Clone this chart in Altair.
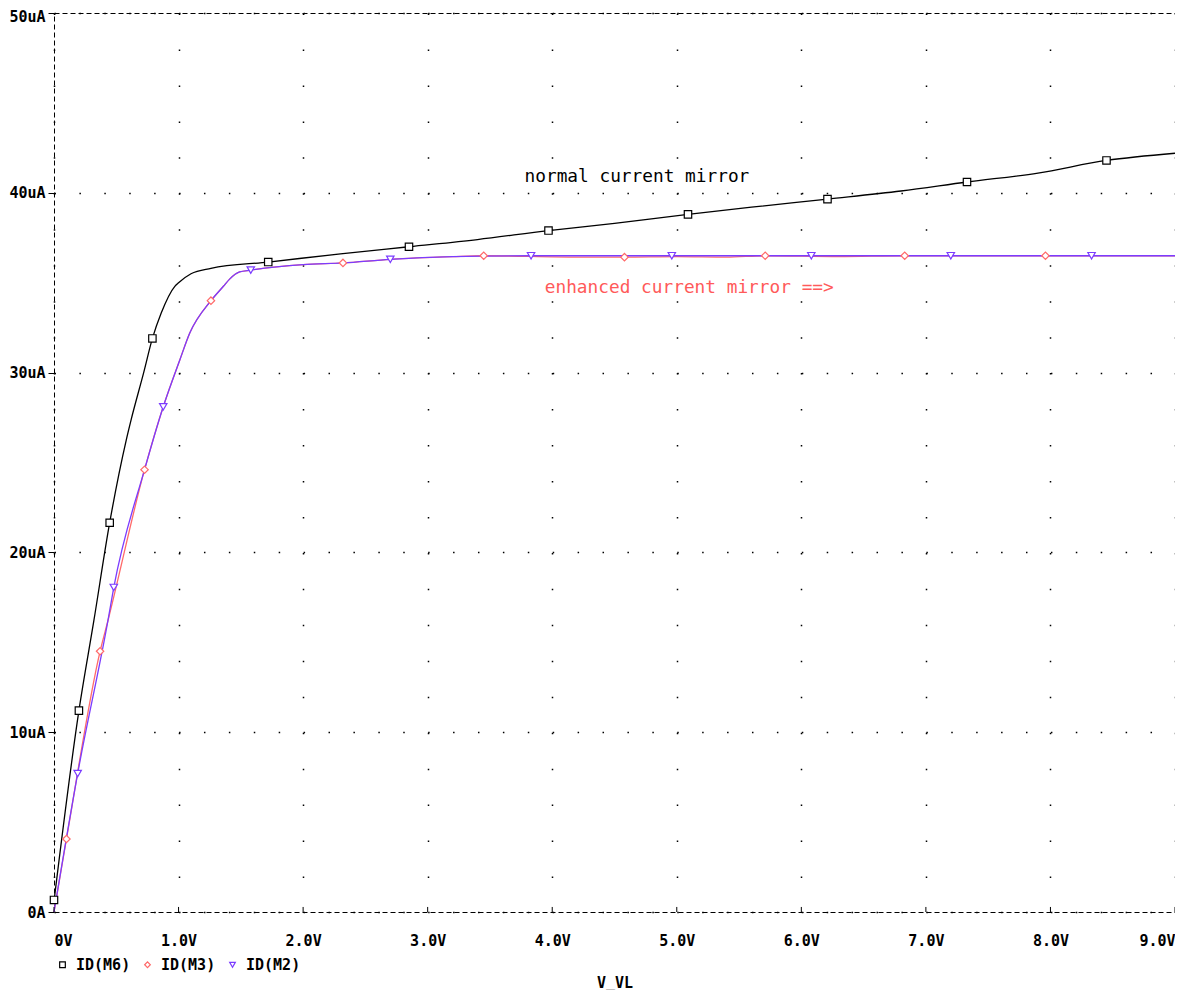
import json
import altair as alt
import pandas as pd

# ---- axis ticks / labels ----
x_ticks = [0, 1, 2, 3, 4, 5, 6, 7, 8, 9]
x_tick_labels = ["0V", "1.0V", "2.0V", "3.0V", "4.0V", "5.0V", "6.0V", "7.0V", "8.0V", "9.0V"]
y_ticks = [0, 10, 20, 30, 40, 50]
y_tick_labels = ["0A", "10uA", "20uA", "30uA", "40uA", "50uA"]

series_names = ["ID(M6)", "ID(M3)", "ID(M2)"]
series_colors = ["#000000", "#ff6a6a", "#7b3cff"]
series_shapes = ["square", "diamond", "triangle-down"]

# ---- curves (V, uA) ----
m6_v = [0.0, 0.2, 0.32, 0.447, 0.58, 0.62, 0.72, 0.79, 0.86, 0.97, 1.0, 1.1, 1.26, 1.72, 2.3, 2.85, 3.4, 3.97,
        4.5, 5.09, 5.6, 6.21, 6.8, 7.33, 7.9, 8.45, 9.0]
m6_i = [0.6, 11.2, 16.2, 21.65, 26.25, 27.4, 30.0, 31.9, 33.3, 34.8, 35.0, 35.5, 35.8, 36.15, 36.6, 37.0, 37.4, 37.9,
        38.3, 38.8, 39.2, 39.65, 40.1, 40.6, 41.1, 41.8, 42.2]

m3_v = [0.0, 0.1, 0.37, 0.433, 0.727, 0.877, 1.01, 1.09, 1.26, 1.36, 1.41, 1.49, 1.58, 2.0, 2.32, 2.7, 3.2, 3.45,
        4.2, 4.58, 5.0, 5.4, 5.71, 6.3, 6.83, 7.96, 9.0]
m3_i = [0.0, 4.06, 14.5, 16.2, 24.6, 28.1, 30.7, 32.2, 34.0, 34.8, 35.2, 35.6, 35.7, 36.0, 36.1, 36.3, 36.45, 36.5,
        36.42, 36.42, 36.45, 36.42, 36.5, 36.45, 36.5, 36.5, 36.5]

m2_v = [0.0, 0.19, 0.433, 0.48, 0.727, 0.877, 1.01, 1.09, 1.26, 1.36, 1.41, 1.49, 1.58, 2.0, 2.32, 2.7, 3.2, 3.83,
        4.96, 6.08, 7.2, 8.33, 9.0]
m2_i = [0.0, 7.7, 16.2, 18.05, 24.6, 28.1, 30.7, 32.2, 34.0, 34.8, 35.2, 35.6, 35.7, 36.0, 36.1, 36.3, 36.45, 36.5,
        36.5, 36.5, 36.5, 36.5, 36.5]

# ---- markers ----
m6_mark_v = [0.0, 0.2, 0.447, 0.79, 1.72, 2.85, 3.97, 5.09, 6.21, 7.33, 8.45]
m6_mark_i = [0.67, 11.2, 21.65, 31.9, 36.15, 37.0, 37.9, 38.8, 39.65, 40.6, 41.8]
m3_mark_v = [0.1, 0.37, 0.727, 1.26, 2.32, 3.45, 4.58, 5.71, 6.83, 7.96]
m3_mark_i = [4.06, 14.5, 24.6, 34.0, 36.1, 36.5, 36.42, 36.5, 36.5, 36.5]
m2_mark_v = [0.19, 0.48, 0.877, 1.58, 2.7, 3.83, 4.96, 6.08, 7.2, 8.33]
m2_mark_i = [7.7, 18.05, 28.1, 35.7, 36.3, 36.5, 36.5, 36.5, 36.5, 36.5]

# ---- annotations ----
note_text = ["normal current mirror", "enhanced current mirror ==>"]
note_v = [4.68, 5.1]
note_i = [40.9, 34.7]
note_colors = ["#000000", "#ff5a5a"]

FONT = "DejaVu Sans Mono"

x_scale = alt.Scale(domain=[0, 9], nice=False, zero=False)
y_scale = alt.Scale(domain=[0, 50], nice=False, zero=False)

x_axis = alt.Axis(
    values=x_ticks,
    labelExpr=f"{json.dumps(x_tick_labels)}[round(datum.value)]",
    title="V_VL", titleFont=FONT, titleFontSize=15, titleFontWeight="bold",
    titlePadding=27, titleColor="black",
    labelFont=FONT, labelFontSize=15, labelFontWeight="bold", labelColor="black",
    labelFlush=True, labelPadding=21, labelAngle=0,
    ticks=False, tickSize=0, domain=False,
    grid=True, gridColor="black", gridWidth=1.5, gridDash=[1.5, 34.46], gridOpacity=1,
)
y_axis = alt.Axis(
    values=y_ticks,
    labelExpr=f"{json.dumps(y_tick_labels)}[round(datum.value / 10)]",
    title=None,
    labelFont=FONT, labelFontSize=15, labelFontWeight="bold", labelColor="black",
    labelPadding=3, labelBaseline="middle",
    labelOffset={"condition": {"test": f"datum.value == {max(y_ticks)}", "value": 3}, "value": 0},
    ticks=True, tickSize=6, tickColor="black", tickWidth=1, domain=False,
    grid=True, gridColor="black", gridWidth=1.5, gridDash=[1.5, 23.41], gridOpacity=1,
)


def line_layer(v, i, color, first=False):
    df = pd.DataFrame({"v": v, "i": i})
    mark = alt.Chart(df).mark_line(color=color, strokeWidth=1.3, interpolate="monotone")
    if first:
        return mark.encode(
            x=alt.X("v:Q", scale=x_scale, axis=x_axis),
            y=alt.Y("i:Q", scale=y_scale, axis=y_axis),
        )
    return mark.encode(
        x=alt.X("v:Q", scale=x_scale),
        y=alt.Y("i:Q", scale=y_scale),
    )


red_line = line_layer(m3_v, m3_i, series_colors[1], first=True)
purple_line = line_layer(m2_v, m2_i, series_colors[2])
black_line = line_layer(m6_v, m6_i, series_colors[0])

marks_df = pd.concat([
    pd.DataFrame({"v": m6_mark_v, "i": m6_mark_i, "series": series_names[0]}),
    pd.DataFrame({"v": m3_mark_v, "i": m3_mark_i, "series": series_names[1]}),
    pd.DataFrame({"v": m2_mark_v, "i": m2_mark_i, "series": series_names[2]}),
])

legend = alt.Legend(
    title=None, orient="none", legendX=1, legendY=944, direction="horizontal",
    labelFont=FONT, labelFontSize=15, labelFontWeight="bold", labelColor="black",
    symbolSize=32, symbolStrokeWidth=1.2, symbolFillColor="white",
    labelOffset=6, columnPadding=9, padding=0,
)

markers = alt.Chart(marks_df).mark_point(filled=True, fill="white", size=55, strokeWidth=1.2, opacity=1).encode(
    x=alt.X("v:Q", scale=x_scale),
    y=alt.Y("i:Q", scale=y_scale),
    stroke=alt.Stroke("series:N", scale=alt.Scale(domain=series_names, range=series_colors), legend=legend),
    shape=alt.Shape("series:N", scale=alt.Scale(domain=series_names, range=series_shapes), legend=legend),
)

tick_df = pd.DataFrame({"v": x_ticks})
x_tick_rules = alt.Chart(tick_df).mark_rule(color="black", strokeWidth=1).encode(
    x=alt.X("v:Q", scale=x_scale),
    y=alt.datum(0),
    y2=alt.datum(0.28),
)

notes_df = pd.DataFrame({"v": note_v, "i": note_i, "t": note_text, "c": note_colors})
notes = alt.Chart(notes_df).mark_text(font=FONT, fontSize=17.8, align="center", baseline="middle").encode(
    x=alt.X("v:Q", scale=x_scale),
    y=alt.Y("i:Q", scale=y_scale),
    text="t:N",
    color=alt.Color("c:N", scale=None),
)

chart = alt.layer(red_line, purple_line, black_line, x_tick_rules, markers, notes).properties(
    width=1121, height=899,
    autosize=alt.AutoSizeParams(type="none"),
    padding={"left": 46, "top": 5, "right": 0, "bottom": 78},
    background="white",
).configure_view(
    stroke="black", strokeDash=[5, 3], strokeWidth=1,
)

chart.save("out.html", embed_options={"renderer": "svg", "actions": False})
